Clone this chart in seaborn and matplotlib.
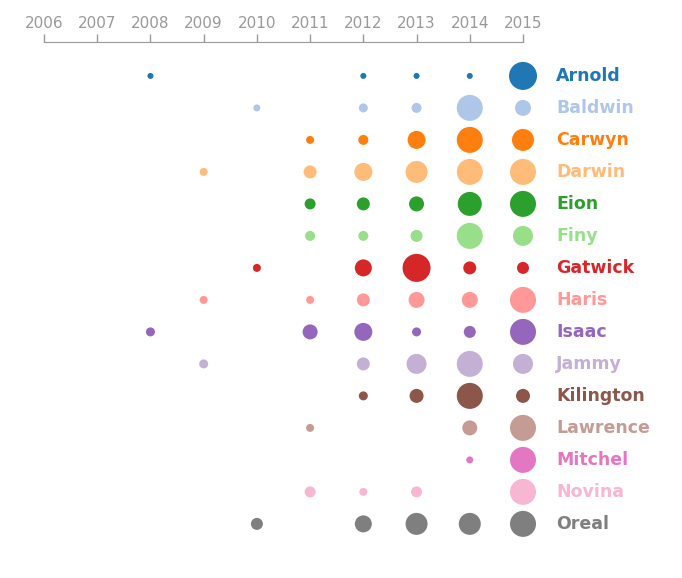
import matplotlib
matplotlib.use("Agg")
import matplotlib.pyplot as plt
import seaborn as sns
import pandas as pd

years = list(range(2006, 2016))
names = ["Arnold", "Baldwin", "Carwyn", "Darwin", "Eion", "Finy", "Gatwick", "Haris",
         "Isaac", "Jammy", "Kilington", "Lawrence", "Mitchel", "Novina", "Oreal"]

# (year, radius) per person
points = {
    "Arnold":    [(2008, 3), (2012, 3), (2013, 3), (2014, 3), (2015, 14)],
    "Baldwin":   [(2010, 3.5), (2012, 4.5), (2013, 5), (2014, 13), (2015, 8)],
    "Carwyn":    [(2011, 4), (2012, 5), (2013, 9), (2014, 13), (2015, 11)],
    "Darwin":    [(2009, 4), (2011, 6.5), (2012, 9), (2013, 11), (2014, 13), (2015, 13)],
    "Eion":      [(2011, 5.5), (2012, 6.5), (2013, 7.5), (2014, 12), (2015, 13)],
    "Finy":      [(2011, 5), (2012, 5), (2013, 6), (2014, 13), (2015, 10)],
    "Gatwick":   [(2010, 4), (2012, 8.5), (2013, 14), (2014, 6.5), (2015, 6)],
    "Haris":     [(2009, 4), (2011, 4), (2012, 6.5), (2013, 8), (2014, 8), (2015, 13)],
    "Isaac":     [(2008, 4.5), (2011, 7.5), (2012, 9), (2013, 4.5), (2014, 6), (2015, 13)],
    "Jammy":     [(2009, 4.5), (2012, 6.5), (2013, 10), (2014, 13), (2015, 10)],
    "Kilington": [(2012, 4.5), (2013, 7), (2014, 13), (2015, 7)],
    "Lawrence":  [(2011, 4), (2014, 7.5), (2015, 13)],
    "Mitchel":   [(2014, 3.5), (2015, 13)],
    "Novina":    [(2011, 5.5), (2012, 4), (2013, 5.5), (2015, 13)],
    "Oreal":     [(2010, 6), (2012, 8.5), (2013, 11), (2014, 11), (2015, 13)],
}

rows = []
for i, n in enumerate(names):
    for yr, r in points[n]:
        rows.append({"name": n, "row": i, "year": yr, "s": (2 * r * 0.72) ** 2})
df = pd.DataFrame(rows)

colors = sns.color_palette("tab20", 20)[:15]
pal = dict(zip(names, colors))

sns.set_style("white")
fig = plt.figure(figsize=(6.82, 5.78), dpi=100)
ax = fig.add_axes([44 / 682, 1 - 545 / 578, (523 - 44) / 682, (545 - 42) / 578])

for n in names:
    d = df[df.name == n]
    ax.scatter(d.year, d.row, s=d.s, color=pal[n], linewidths=0, clip_on=False)

for i, n in enumerate(names):
    ax.text(2015.62, i, n, color=pal[n], fontsize=12.5, fontweight="bold",
            va="center", ha="left", clip_on=False)

ax.set_xlim(2006, 2015)
ax.set_ylim(14.66, -1.06)
ax.xaxis.tick_top()
ax.set_xticks(years)
ax.tick_params(axis="x", colors="#999999", labelsize=11, length=6, width=1, pad=2)
ax.set_yticks([])
for sp in ["left", "right", "bottom"]:
    ax.spines[sp].set_visible(False)
ax.spines["top"].set_color("#999999")

fig.savefig("out.png", dpi=100)
